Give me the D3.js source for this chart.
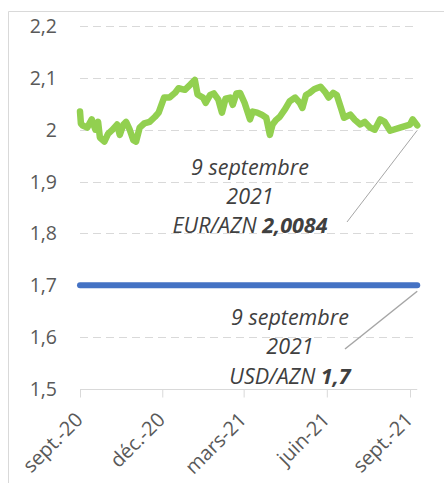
<!DOCTYPE html>
<html><head><meta charset="utf-8">
<script src="https://cdn.jsdelivr.net/npm/d3@7"></script>
<style>
html,body{margin:0;padding:0;background:#fff;}
svg{display:block;font-family:"Open Sans",sans-serif;}
</style></head>
<body><svg id="c" width="444" height="483"></svg>
<script>
const eurDates = ["2020-09-01","2020-09-02","2020-09-04","2020-09-09","2020-09-14","2020-09-18","2020-09-21","2020-09-23","2020-09-28","2020-10-02","2020-10-07","2020-10-12","2020-10-15","2020-10-19","2020-10-22","2020-10-26","2020-10-30","2020-11-02","2020-11-06","2020-11-11","2020-11-17","2020-11-23","2020-11-27","2020-12-03","2020-12-09","2020-12-15","2020-12-19","2020-12-26","2021-01-01","2021-01-06","2021-01-09","2021-01-15","2021-01-18","2021-01-23","2021-01-27","2021-02-01","2021-02-05","2021-02-09","2021-02-14","2021-02-17","2021-02-21","2021-02-25","2021-03-02","2021-03-08","2021-03-11","2021-03-16","2021-03-21","2021-03-26","2021-03-30","2021-04-02","2021-04-06","2021-04-10","2021-04-16","2021-04-21","2021-04-27","2021-05-02","2021-05-05","2021-05-09","2021-05-13","2021-05-18","2021-05-22","2021-05-25","2021-05-30","2021-06-03","2021-06-08","2021-06-12","2021-06-17","2021-06-20","2021-06-27","2021-07-02","2021-07-08","2021-07-13","2021-07-19","2021-07-24","2021-07-30","2021-08-04","2021-08-10","2021-08-21","2021-09-01","2021-09-04","2021-09-09"];
const eurValues = [2.035,2.012,2.008,2.004,2.02,2.0,2.015,1.985,1.977,1.992,2.0,2.01,1.99,2.01,2.015,2.0,1.98,1.977,2.004,2.012,2.015,2.025,2.033,2.062,2.062,2.071,2.08,2.077,2.087,2.096,2.068,2.062,2.052,2.067,2.07,2.058,2.033,2.06,2.062,2.048,2.07,2.071,2.052,2.02,2.035,2.033,2.029,2.023,1.99,2.01,2.019,2.025,2.04,2.055,2.062,2.052,2.042,2.067,2.071,2.078,2.081,2.083,2.073,2.062,2.071,2.067,2.04,2.023,2.029,2.019,2.01,2.015,2.004,2.0,2.02,2.015,1.998,2.004,2.01,2.02,2.0084];
const usdDates = ["2020-09-01","2021-09-09"];
const usdValues = [1.7,1.7];
const yTicks = [1.5,1.6,1.7,1.8,1.9,2.0,2.1,2.2];
const xTickDates = ["2020-09-01","2020-12-01","2021-03-01","2021-06-01","2021-09-01"];
const xTickLabels = ["sept.-20","déc.-20","mars-21","juin-21","sept.-21"];
const eurNote = ["9 septembre","2021","EUR/AZN","2,0084"];
const usdNote = ["9 septembre","2021","USD/AZN","1,7"];

const parse = d3.timeParse("%Y-%m-%d");
const svg = d3.select("#c");
const x = d3.scaleTime().domain([parse("2020-09-01"), parse("2021-09-01")]).range([80, 410]);
const y = d3.scaleLinear().domain([1.5, 2.2]).range([389, 26]);
const xEnd = x(parse("2021-09-09"));

// frame
svg.append("path").attr("d", "M8.5,483 V11.5 H444").attr("fill","none").attr("stroke","#d9d9d9").attr("stroke-width",1);

// gridlines
svg.append("g").selectAll("line").data(yTicks.filter(v => v > 1.5)).join("line")
  .attr("x1", 80).attr("x2", xEnd)
  .attr("y1", d => Math.round(y(d)) + 0.5).attr("y2", d => Math.round(y(d)) + 0.5)
  .attr("stroke", "#d9d9d9").attr("stroke-width", 1).attr("stroke-dasharray", "8,5");

// y labels
svg.append("g").selectAll("text").data(yTicks).join("text")
  .attr("x", 57).attr("y", d => y(d)).attr("dy", "0.36em")
  .attr("text-anchor", "end").attr("fill", "#595959").attr("font-size", 19.5)
  .text(d => d3.format(".1f")(d).replace(".", ",").replace(/,0$/, ""));

// x axis
const xAxis = d3.axisBottom(x).tickValues(xTickDates.map(parse)).tickSize(8).tickFormat("");
const gx = svg.append("g").attr("transform", "translate(0,389.5)").call(xAxis);
gx.select(".domain").attr("d", `M80,0H${xEnd}`).attr("stroke", "#d9d9d9");
gx.selectAll(".tick line").attr("stroke", "#d9d9d9");
svg.append("g").selectAll("text").data(xTickDates).join("text")
  .attr("transform", d => `translate(${x(parse(d)) + 4},${421}) rotate(-45)`)
  .attr("text-anchor", "end").attr("fill", "#595959").attr("font-size", 20)
  .text((d, i) => xTickLabels[i]);

// lines
const line = d3.line().x(d => x(d[0])).y(d => y(d[1]));
svg.append("path").datum(usdDates.map((d, i) => [parse(d), usdValues[i]]))
  .attr("d", line).attr("fill", "none").attr("stroke", "#4472c4").attr("stroke-width", 6).attr("stroke-linecap", "round");
svg.append("path").datum(eurDates.map((d, i) => [parse(d), eurValues[i]]))
  .attr("d", line).attr("fill", "none").attr("stroke", "#92d050").attr("stroke-width", 6.5)
  .attr("stroke-linecap", "round").attr("stroke-linejoin", "round");

// leader lines
const lastEur = [parse(eurDates[eurDates.length - 1]), eurValues[eurValues.length - 1]];
svg.append("line").attr("x1", 347).attr("y1", 222).attr("x2", x(lastEur[0])).attr("y2", y(lastEur[1]) + 5)
  .attr("stroke", "#a6a6a6").attr("stroke-width", 1);
svg.append("line").attr("x1", 345).attr("y1", 349).attr("x2", xEnd).attr("y2", y(1.7) + 6)
  .attr("stroke", "#a6a6a6").attr("stroke-width", 1.5);

// notes
function note(cx, ys, lines) {
  const g = svg.append("g").attr("fill", "#404040").attr("font-size", 21.5).attr("font-style", "italic").attr("text-anchor", "middle");
  g.append("text").attr("x", cx).attr("y", ys[0]).text(lines[0]);
  g.append("text").attr("x", cx).attr("y", ys[1]).text(lines[1]);
  const t = g.append("text").attr("x", cx).attr("y", ys[2]);
  t.append("tspan").text(lines[2] + " ");
  t.append("tspan").attr("font-weight", "bold").text(lines[3]);
}
note(250, [175, 204, 233], eurNote);
note(290, [325, 354, 384], usdNote);
</script></body></html>
